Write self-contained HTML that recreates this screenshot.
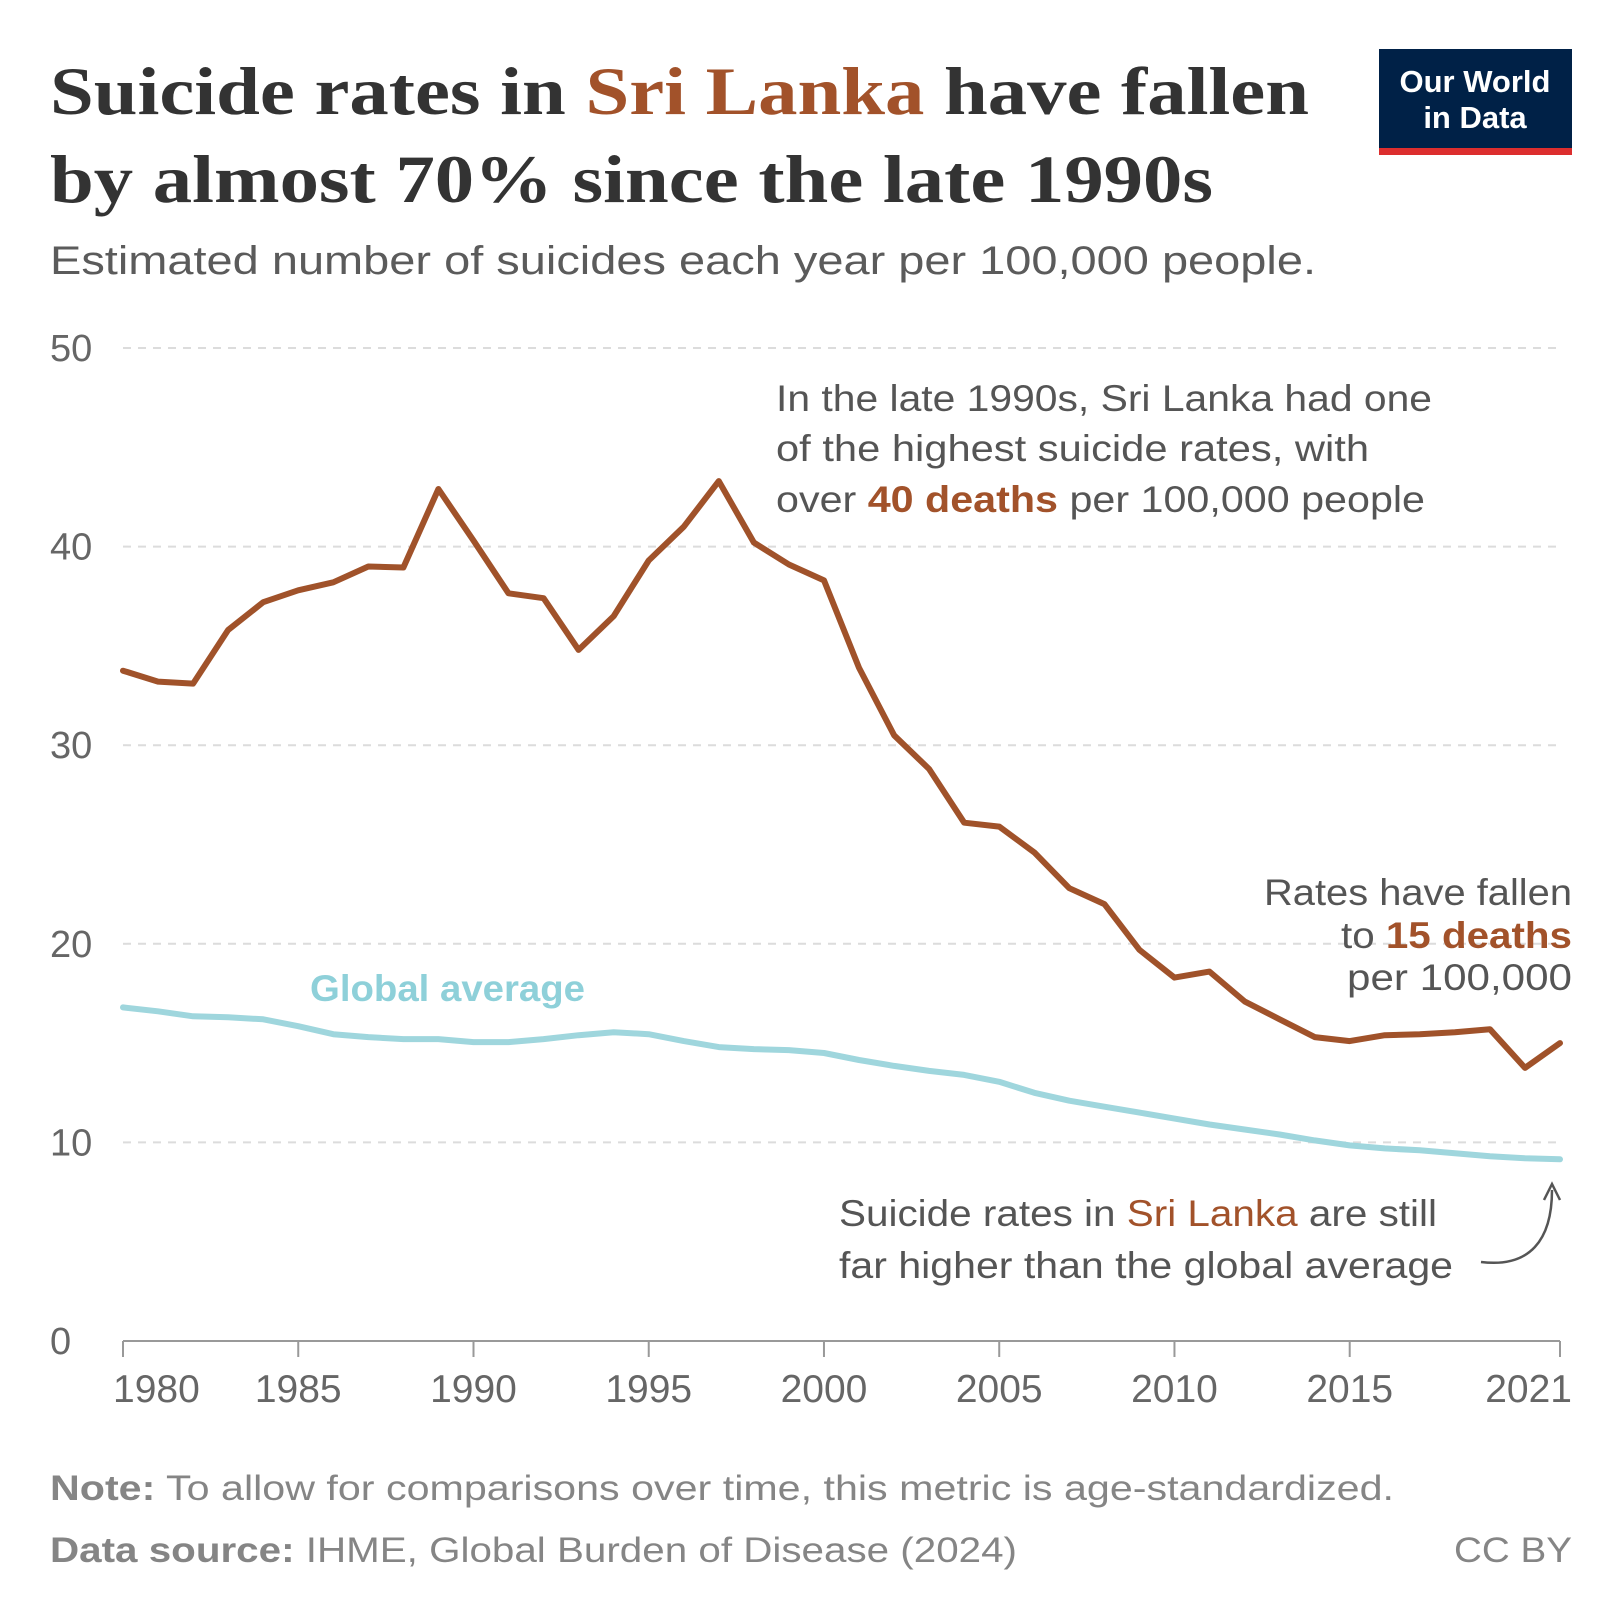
<!DOCTYPE html>
<html><head><meta charset="utf-8">
<style>
body{margin:0;background:#fff}
svg{display:block;font-family:"Liberation Sans",sans-serif}
</style></head>
<body>
<svg id="chart" width="1620" height="1620" viewBox="0 0 1620 1620" xmlns="http://www.w3.org/2000/svg">
<text x="50" y="114" font-family="Liberation Serif,serif" font-weight="bold" font-size="68" fill="#333" textLength="1259" lengthAdjust="spacingAndGlyphs">Suicide rates in <tspan fill="#a2522a">Sri Lanka</tspan> have fallen</text>
<text x="50" y="202" font-family="Liberation Serif,serif" font-weight="bold" font-size="68" fill="#333" textLength="1163" lengthAdjust="spacingAndGlyphs">by almost 70% since the late 1990s</text>
<text x="50" y="274" font-size="40" fill="#5b5b5b" textLength="1266" lengthAdjust="spacingAndGlyphs">Estimated number of suicides each year per 100,000 people.</text>
<g>
<rect x="1379" y="49" width="193" height="106" fill="#002147"/>
<rect x="1379" y="148" width="193" height="7" fill="#dc2e2e"/>
<text x="1475" y="92" text-anchor="middle" font-size="31" font-weight="bold" fill="#fff">Our World</text>
<text x="1475" y="128" text-anchor="middle" font-size="31" font-weight="bold" fill="#fff">in Data</text>
</g>
<g id="grid"></g>
<g id="yticks"></g>
<g id="xaxis"></g>
<g id="series"></g>
<text x="776" y="411" font-size="37" fill="#555" textLength="656" lengthAdjust="spacingAndGlyphs">In the late 1990s, Sri Lanka had one</text>
<text x="776" y="461" font-size="37" fill="#555" textLength="593" lengthAdjust="spacingAndGlyphs">of the highest suicide rates, with</text>
<text x="776" y="512" font-size="37" fill="#555" textLength="649" lengthAdjust="spacingAndGlyphs">over <tspan fill="#a2522a" font-weight="bold">40 deaths</tspan> per 100,000 people</text>
<text x="1264" y="905" font-size="37" fill="#555" textLength="308" lengthAdjust="spacingAndGlyphs">Rates have fallen</text>
<text x="1341" y="948" font-size="37" fill="#555" textLength="231" lengthAdjust="spacingAndGlyphs">to <tspan fill="#a2522a" font-weight="bold">15 deaths</tspan></text>
<text x="1347" y="990" font-size="37" fill="#555" textLength="225" lengthAdjust="spacingAndGlyphs">per 100,000</text>
<text x="310" y="1001" font-size="37" font-weight="bold" fill="#8ed0d9" textLength="275" lengthAdjust="spacingAndGlyphs">Global average</text>
<text x="839" y="1226" font-size="37" fill="#555" textLength="598" lengthAdjust="spacingAndGlyphs">Suicide rates in <tspan fill="#a2522a">Sri Lanka</tspan> are still</text>
<text x="839" y="1278" font-size="37" fill="#555" textLength="614" lengthAdjust="spacingAndGlyphs">far higher than the global average</text>
<path d="M1481,1262 C1530,1268 1552,1240 1552,1190" fill="none" stroke="#555" stroke-width="2.5"/>
<path d="M1544,1200 L1552,1184 L1560,1200" fill="none" stroke="#555" stroke-width="2.5"/>
<text x="50" y="1500" font-size="35" fill="#858585" textLength="1344" lengthAdjust="spacingAndGlyphs"><tspan font-weight="bold">Note:</tspan> To allow for comparisons over time, this metric is age-standardized.</text>
<text x="50" y="1562" font-size="35" fill="#858585" textLength="967" lengthAdjust="spacingAndGlyphs"><tspan font-weight="bold">Data source:</tspan> IHME, Global Burden of Disease (2024)</text>
<text x="1454" y="1562" font-size="35" fill="#858585" textLength="118" lengthAdjust="spacingAndGlyphs">CC BY</text>
</svg>
<script>
const years=[1980,1981,1982,1983,1984,1985,1986,1987,1988,1989,1990,1991,1992,1993,1994,1995,1996,1997,1998,1999,2000,2001,2002,2003,2004,2005,2006,2007,2008,2009,2010,2011,2012,2013,2014,2015,2016,2017,2018,2019,2020,2021];
const sriLanka=[33.75,33.2,33.1,35.8,37.2,37.8,38.2,39.0,38.95,42.9,40.3,37.65,37.4,34.8,36.5,39.3,41.0,43.3,40.2,39.1,38.3,33.9,30.5,28.8,26.1,25.9,24.6,22.8,22.0,19.7,18.3,18.6,17.1,16.2,15.3,15.1,15.4,15.45,15.55,15.7,13.75,15.0];
const globalAvg=[16.8,16.6,16.35,16.3,16.2,15.85,15.45,15.3,15.2,15.2,15.05,15.05,15.2,15.4,15.55,15.45,15.1,14.8,14.7,14.65,14.5,14.15,13.85,13.6,13.4,13.05,12.5,12.1,11.8,11.5,11.2,10.9,10.65,10.4,10.1,9.85,9.7,9.6,9.45,9.3,9.2,9.15];
const yTicks=[0,10,20,30,40,50];
const xTicks=[1980,1985,1990,1995,2000,2005,2010,2015,2021];
const NS="http://www.w3.org/2000/svg";
const X0=123,X1=1560,Y0=1341,Y50=348;
const xs=y=>X0+(y-1980)/(2021-1980)*(X1-X0);
const ys=v=>Y0+(v/50)*(Y50-Y0);
function mk(tag,at,parent){const e=document.createElementNS(NS,tag);for(const k in at)e.setAttribute(k,at[k]);parent.appendChild(e);return e;}
const grid=document.getElementById('grid'),yt=document.getElementById('yticks'),xa=document.getElementById('xaxis'),se=document.getElementById('series');
yTicks.forEach(t=>{
  if(t>0){const l=mk('line',{x1:X0,x2:X1,y1:ys(t),y2:ys(t),stroke:'#dcdcdc','stroke-width':2,'stroke-dasharray':'8,7'},grid);
  
  }
  const tx=mk('text',{x:50,y:ys(t)+13,'font-size':38,fill:'#666'},yt);tx.textContent=t;
  
  
});
const ax=mk('line',{x1:X0,x2:X1,y1:Y0,y2:Y0,stroke:'#999','stroke-width':2},xa);


xTicks.forEach(t=>{
  const tk=mk('line',{x1:xs(t),x2:xs(t),y1:Y0,y2:Y0+16,stroke:'#999','stroke-width':2},xa);
  
  
  const anchor=t===2021?'end':(t===1980?'start':'middle');
  const xx=t===2021?xs(t)+12:(t===1980?xs(t)-10:xs(t));
  const tx=mk('text',{x:xx,y:1402,'font-size':39,fill:'#666','text-anchor':anchor},xa);tx.textContent=t;
  
  
});
function line(vals,color,name){
  const d=vals.map((v,i)=>(i?'L':'M')+xs(years[i]).toFixed(1)+','+ys(v).toFixed(1)).join(' ');
  const p=mk('path',{d:d,fill:'none',stroke:color,'stroke-width':6,'stroke-linejoin':'round','stroke-linecap':'round'},se);
  
  
}
line(globalAvg,'#9fd6dd','global-average-line');
line(sriLanka,'#a0522a','sri-lanka-line');
</script>
</body></html>
